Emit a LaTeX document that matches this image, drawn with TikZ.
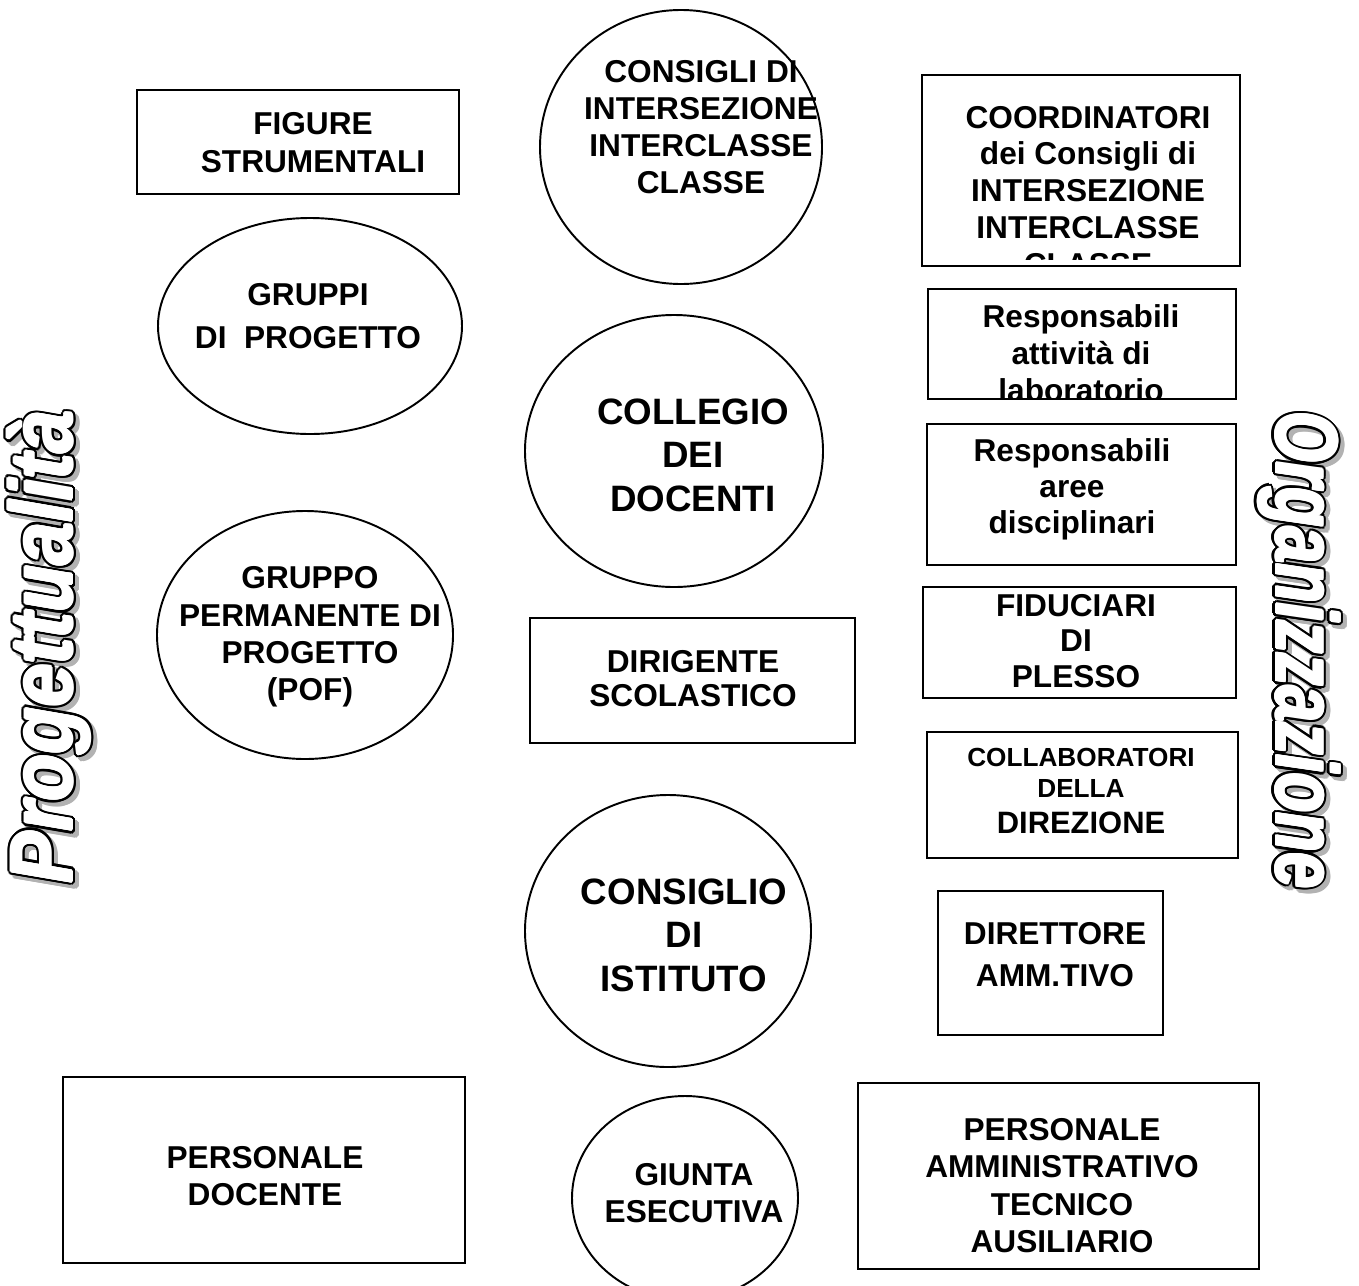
\documentclass[tikz,border=0pt]{standalone}
\usepackage{fontspec}
\setmainfont{Liberation Sans}
\usetikzlibrary{calc}

\tikzset{
	box/.style={line width=1.1pt},
	txt/.style={inner sep=0pt, align=center, font=\bfseries\fontsize{18}{21.2}\selectfont},
	bigtxt/.style={inner sep=0pt, align=center, font=\bfseries\fontsize{20.9}{24.7}\selectfont},
	smalltxt/.style={inner sep=0pt, align=center, font=\bfseries\fontsize{14.9}{17.6}\selectfont},
	wordart/.style={inner sep=0pt, font=\bfseries\itshape\fontsize{50}{50}\selectfont},
}

\begin{document}
\begin{tikzpicture}[x=0.02cm, y=-0.02cm]
	\useasboundingbox (0,0) rectangle (1359,1285);
	\fill[white] (0,0) rectangle (1359,1285);
	\begin{scope}[box]
	% boxes
	\draw (137,90) rectangle (459,194);
	\draw (922,75) rectangle (1240,266);
	\draw (928,289) rectangle (1236,399);
	\draw (927,424) rectangle (1236,565);
	\draw (923,587) rectangle (1236,698);
	\draw (530,618) rectangle (855,743);
	\draw (927,732) rectangle (1238,858);
	\draw (938,891) rectangle (1163,1035);
	\draw (63,1077) rectangle (465,1263);
	\draw (858,1083) rectangle (1259,1269);
	% ellipses
	\draw (681,147) ellipse [x radius=141, y radius=137];
	\draw (310,326) ellipse [x radius=152, y radius=108];
	\draw (674,451) ellipse [x radius=149, y radius=136];
	\draw (305,635) ellipse [x radius=148, y radius=124];
	\draw (668,931) ellipse [x radius=143, y radius=136];
	\draw (685,1198) ellipse [x radius=113, y radius=102];
	\end{scope}

	\node[txt] (figure) at (313,142.5) {FIGURE\\STRUMENTALI};
	\node[txt] (consigli) at (701,127) {CONSIGLI DI\\INTERSEZIONE\\INTERCLASSE\\CLASSE};
	\begin{scope}
	\clip (923,76) rectangle (1239,259);
	\node[txt, font=\bfseries\fontsize{18}{21}\selectfont] (coord) at (1088,191) {COORDINATORI\\dei Consigli di\\INTERSEZIONE\\INTERCLASSE\\CLASSE};
	\end{scope}
	\node[txt, font=\bfseries\fontsize{18}{24.9}\selectfont] (gruppi) at (308,316) {GRUPPI\\DI~~PROGETTO};
	\begin{scope}
	\clip (929,290) rectangle (1235,398);
	\node[txt] (reslab) at (1081,353) {Responsabili\\attività di\\laboratorio};
	\end{scope}
	\node[bigtxt] (collegio) at (693,455) {COLLEGIO\\DEI\\DOCENTI};
	\node[txt, font=\bfseries\fontsize{18}{20.4}\selectfont] (resaree) at (1072,489) {Responsabili\\aree\\disciplinari};
	\node[txt] (gruppo) at (310,637) {GRUPPO\\PERMANENTE DI\\PROGETTO\\(POF)};
	\node[txt, font=\bfseries\fontsize{18}{20.4}\selectfont] (fiduciari) at (1076,641) {FIDUCIARI\\DI\\PLESSO};
	\node[txt, font=\bfseries\fontsize{18}{19.8}\selectfont] (dirigente) at (693,678.5) {DIRIGENTE\\SCOLASTICO};
	\node[smalltxt] (collab) at (1081,791) {COLLABORATORI\\DELLA\\[2.5pt]\fontsize{17.6}{21}\selectfont DIREZIONE};
	\node[bigtxt] (consiglio) at (684,935) {CONSIGLIO\\DI\\ISTITUTO};
	\node[txt, font=\bfseries\fontsize{18}{23.8}\selectfont] (direttore) at (1055,955) {DIRETTORE\\AMM.TIVO};
	\node[txt] (pdocente) at (265,1176) {PERSONALE\\DOCENTE};
	\node[txt] (giunta) at (694,1193) {GIUNTA\\ESECUTIVA};
	\node[txt] (pata) at (1062,1185.5) {PERSONALE\\AMMINISTRATIVO\\TECNICO\\AUSILIARIO};

	% side titles
	\coordinate (progc) at (49,647);
	\coordinate (orgc) at (1299,650);
	\foreach \a in {0,24,...,336} {
		\node[wordart, rotate=90, text=gray!60] (progsh\a) at ($(progc)+(4,4)+(\a:3.5)$) {\scalebox{0.88}[1]{Progettualità}};
		\node[wordart, rotate=-90, text=gray!60] (orgsh\a) at ($(orgc)+(4,4)+(\a:3.5)$) {\scalebox{0.74}[1]{Organizzazione}};
	}
	\foreach \a in {0,24,...,336} {
		\node[wordart, rotate=90] (progol\a) at ($(progc)+(\a:3.5)$) {\scalebox{0.88}[1]{Progettualità}};
		\node[wordart, rotate=-90] (orgol\a) at ($(orgc)+(\a:3.5)$) {\scalebox{0.74}[1]{Organizzazione}};
	}
	\foreach \a in {0,45,...,315} {
		\node[wordart, rotate=90, text=white] (progin\a) at ($(progc)+(\a:1.2)$) {\scalebox{0.88}[1]{Progettualità}};
		\node[wordart, rotate=-90, text=white] (orgin\a) at ($(orgc)+(\a:1.2)$) {\scalebox{0.74}[1]{Organizzazione}};
	}
	\node[wordart, rotate=90, text=white] (prog) at (progc) {\scalebox{0.88}[1]{Progettualità}};
	\node[wordart, rotate=-90, text=white] (org) at (orgc) {\scalebox{0.74}[1]{Organizzazione}};
\end{tikzpicture}
\end{document}
